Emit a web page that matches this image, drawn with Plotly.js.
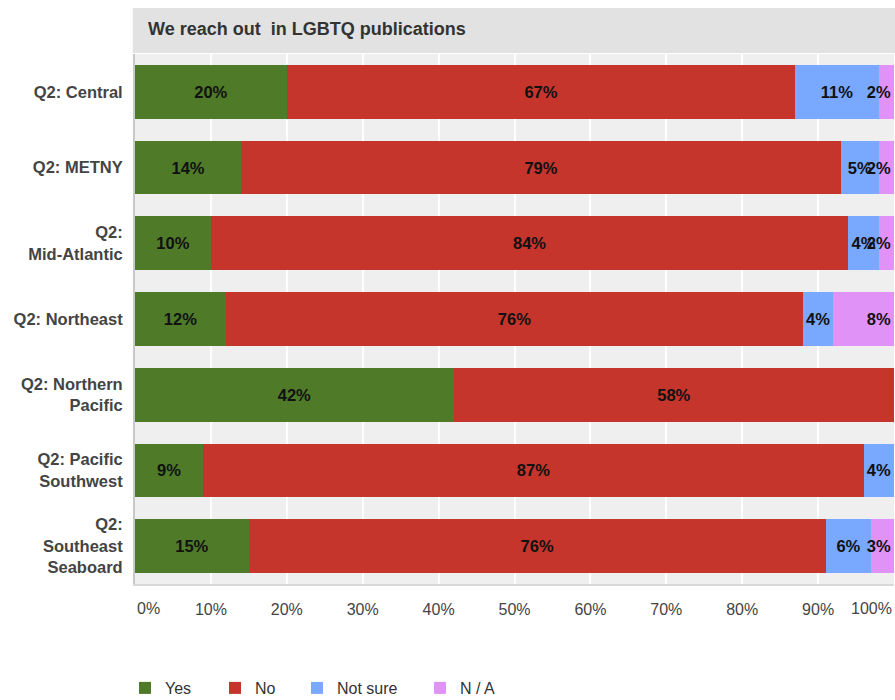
<!DOCTYPE html>
<html>
<head>
<meta charset="utf-8">
<script src="https://cdn.plot.ly/plotly-3.0.1.min.js"></script>
<style>html,body{margin:0;padding:0;background:#fff;}#chart{width:895px;height:700px;}</style>
</head>
<body>
<div id="chart"></div>
<script>
const categories = [
  "Q2: Central",
  "Q2: METNY",
  "Q2:<br>Mid-Atlantic",
  "Q2: Northeast",
  "Q2: Northern<br>Pacific",
  "Q2: Pacific<br>Southwest",
  "Q2:<br>Southeast<br>Seaboard"
];
const yesValues     = [20, 14, 10, 12, 42, 9, 15];
const noValues      = [67, 79, 84, 76, 58, 87, 76];
const notSureValues = [11, 5, 4, 4, null, 4, 6];
const naValues      = [2, 2, 2, 8, null, null, 3];
const seriesNames = ["Yes", "No", "Not sure", "N / A"];
const tickValues = [0, 10, 20, 30, 40, 50, 60, 70, 80, 90, 100];
const tickLabels = ["0%", "10%", "20%", "30%", "40%", "50%", "60%", "70%", "80%", "90%", "100%"];
const chartTitle = "We reach out &nbsp;in LGBTQ publications";

const colors = ["#4f7a28", "#c5352c", "#78a8ff", "#e192f7"];
const seriesValues = [yesValues, noValues, notSureValues, naValues];
const legendIds = ["legend", "legend2", "legend3", "legend4"];
const FONT = "Liberation Sans, Arial, sans-serif";

const traces = seriesValues.map((vals, i) => ({
  type: "bar",
  orientation: "h",
  name: seriesNames[i],
  y: categories,
  x: vals,
  text: vals.map(v => (v === null ? "" : v + "%")),
  texttemplate: "%{text}",
  textposition: "inside",
  // last series sits at the right edge: keep its labels inside the chart
  insidetextanchor: i === seriesValues.length - 1 ? "end" : "middle",
  textangle: 0,
  constraintext: "none",
  cliponaxis: false,
  textfont: {family: FONT, size: 16.5, color: "#111", weight: "bold"},
  marker: {color: colors[i], line: {width: 0}},
  hoverinfo: "skip",
  legend: legendIds[i]
}));

// legend text start x positions (px) in the reference
const legendTextX = [165, 255, 337, 460];
const legendObj = (i) => ({
  orientation: "h",
  xref: "container", yref: "container",
  x: (legendTextX[i] - 40) / 895,
  xanchor: "left",
  y: 12 / 700,
  yanchor: "middle",
  font: {family: FONT, size: 16, color: "#333"},
  bgcolor: "rgba(0,0,0,0)",
  borderwidth: 0
});

const plotBottom = 584, plotTop = 54, plotH = plotBottom - plotTop;
const layout = {
  width: 895, height: 700,
  paper_bgcolor: "#ffffff",
  plot_bgcolor: "#efefef",
  barmode: "stack",
  bargap: 0.29,
  margin: {l: 135, r: 1, t: plotTop, b: 700 - plotBottom, pad: 0},
  font: {family: FONT},
  title: {
    text: chartTitle,
    font: {family: FONT, size: 18, color: "#333", weight: "bold"},
    xref: "paper", x: 13 / 759, xanchor: "left",
    yref: "container", y: 1 - 29 / 700, yanchor: "middle"
  },
  xaxis: {
    range: [0, 100],
    tickvals: tickValues,
    ticktext: tickLabels.map((t, i) => (i === 0 || i === tickLabels.length - 1) ? "" : t),
    showgrid: true, gridcolor: "#ffffff", gridwidth: 2,
    zeroline: false,
    showline: true, linecolor: "#d8d8d8", linewidth: 2,
    ticks: "", ticklabelstandoff: 10,
    tickfont: {family: FONT, size: 16, color: "#444"},
    fixedrange: true
  },
  yaxis: {
    type: "category",
    autorange: "reversed",
    showgrid: false, zeroline: false,
    showline: true, linecolor: "#c8c8c8", linewidth: 2,
    ticks: "", ticklabelstandoff: 7,
    tickfont: {family: FONT, size: 16.5, color: "#444", weight: "bold"},
    fixedrange: true
  },
  shapes: [{
    type: "rect", xref: "paper", yref: "paper",
    x0: -0.003, x1: 1.01,
    y0: 1 + 1 / plotH, y1: 1 + 46 / plotH,
    fillcolor: "#e2e2e2", line: {width: 0}, layer: "below"
  }],
  annotations: [
    {x: tickValues[0], xref: "x", y: -24 / plotH, yref: "paper", text: tickLabels[0],
     xanchor: "left", yanchor: "middle", showarrow: false, font: {family: FONT, size: 16, color: "#444"}},
    {x: tickValues[tickValues.length - 1], xref: "x", y: -24 / plotH, yref: "paper", text: tickLabels[tickLabels.length - 1],
     xanchor: "right", yanchor: "middle", showarrow: false, font: {family: FONT, size: 16, color: "#444"}}
  ],
  uniformtext: {mode: "show", minsize: 16.5},
  showlegend: true,
  legend: legendObj(0),
  legend2: legendObj(1),
  legend3: legendObj(2),
  legend4: legendObj(3)
};

Plotly.newPlot("chart", traces, layout, {displayModeBar: false, staticPlot: true});
</script>
</body>
</html>
